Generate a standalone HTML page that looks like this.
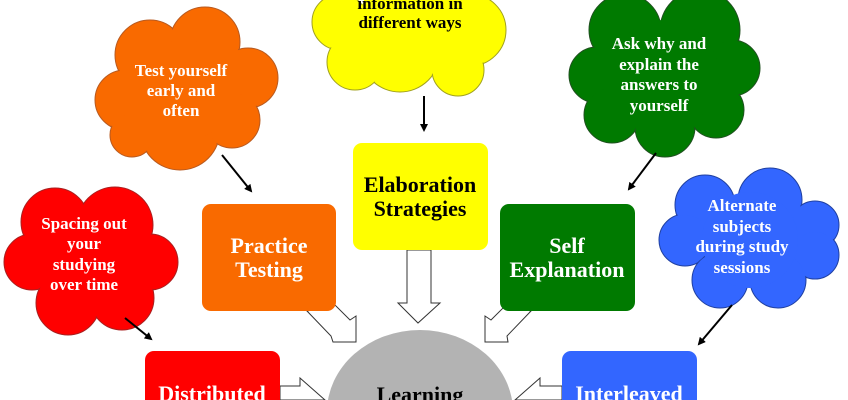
<!DOCTYPE html>
<html><head><meta charset="utf-8"><style>
html,body{margin:0;padding:0;background:#fff;width:848px;height:400px;overflow:hidden}
svg{display:block}
svg text{font-family:"Liberation Serif",serif;font-weight:bold;text-anchor:middle}
</style></head><body>
<svg width="848" height="400" viewBox="0 0 848 400" xmlns="http://www.w3.org/2000/svg">
<defs>
<marker id="ah" markerWidth="8" markerHeight="8" refX="6" refY="4" orient="auto" markerUnits="userSpaceOnUse"><path d="M0,0 L8,4 L0,8 Z" fill="#000"/></marker>
</defs>
<g id="orange">
<g fill="#f96a00" stroke="#b85a20" stroke-width="1">
<circle cx="150" cy="55" r="35"/><circle cx="205" cy="42" r="35"/><circle cx="248" cy="78" r="30"/>
<circle cx="125" cy="100" r="30"/><circle cx="180" cy="130" r="40"/><circle cx="232" cy="120" r="28"/><circle cx="132" cy="135" r="22"/>
</g>
<g fill="#f96a00">
<circle cx="150" cy="55" r="34"/><circle cx="205" cy="42" r="34"/><circle cx="248" cy="78" r="29"/>
<circle cx="125" cy="100" r="29"/><circle cx="180" cy="130" r="39"/><circle cx="232" cy="120" r="27"/><circle cx="132" cy="135" r="21"/><circle cx="185" cy="90" r="50"/>
</g></g>
<g id="red">
<g fill="#f00" stroke="#a82020" stroke-width="1">
<circle cx="55" cy="222" r="34"/><circle cx="115" cy="225" r="38"/><circle cx="32" cy="262" r="28"/>
<circle cx="150" cy="262" r="28"/><circle cx="68" cy="303" r="32"/><circle cx="122" cy="298" r="32"/>
</g>
<g fill="#f00">
<circle cx="55" cy="222" r="33"/><circle cx="115" cy="225" r="37"/><circle cx="32" cy="262" r="27"/>
<circle cx="150" cy="262" r="27"/><circle cx="68" cy="303" r="31"/><circle cx="122" cy="298" r="31"/><circle cx="90" cy="262" r="50"/>
</g></g>
<g id="yellow">
<g fill="#ff0" stroke="#a0a020" stroke-width="1">
<circle cx="340" cy="22" r="28"/><circle cx="400" cy="52" r="40"/><circle cx="470" cy="30" r="36"/><circle cx="355" cy="62" r="28"/><circle cx="458" cy="70" r="26"/>
</g>
<g fill="#ff0">
<circle cx="340" cy="22" r="27"/><circle cx="400" cy="52" r="39"/><circle cx="470" cy="30" r="35"/><circle cx="355" cy="62" r="27"/><circle cx="458" cy="70" r="25"/><circle cx="410" cy="20" r="50"/>
</g></g>
<g id="green">
<g fill="#007a00" stroke="#205020" stroke-width="1">
<circle cx="625" cy="30" r="36"/><circle cx="700" cy="30" r="40"/><circle cx="597" cy="75" r="28"/><circle cx="732" cy="68" r="28"/>
<circle cx="612" cy="115" r="28"/><circle cx="665" cy="127" r="30"/><circle cx="716" cy="110" r="28"/>
</g>
<g fill="#007a00">
<circle cx="625" cy="30" r="35"/><circle cx="700" cy="30" r="39"/><circle cx="597" cy="75" r="27"/><circle cx="732" cy="68" r="27"/>
<circle cx="612" cy="115" r="27"/><circle cx="665" cy="127" r="29"/><circle cx="716" cy="110" r="27"/><circle cx="664" cy="75" r="55"/>
</g></g>
<g id="blue">
<g fill="#3366ff" stroke="#2040a0" stroke-width="1">
<circle cx="705" cy="205" r="30"/><circle cx="770" cy="200" r="32"/><circle cx="815" cy="225" r="24"/><circle cx="685" cy="240" r="26"/><circle cx="815" cy="255" r="24"/>
<circle cx="720" cy="280" r="28"/><circle cx="778" cy="280" r="28"/>
</g>
<g fill="#3366ff">
<circle cx="705" cy="205" r="29"/><circle cx="770" cy="200" r="31"/><circle cx="815" cy="225" r="23"/><circle cx="685" cy="240" r="25"/><circle cx="815" cy="255" r="23"/>
<circle cx="720" cy="280" r="27"/><circle cx="778" cy="280" r="27"/><circle cx="750" cy="240" r="48"/>
</g></g>
<g fill="#fff" font-size="17">
<text x="181" y="76">Test yourself</text><text x="181" y="96">early and</text><text x="181" y="116">often</text>
<text x="84" y="229">Spacing out</text><text x="84" y="249">your</text><text x="84" y="270">studying</text><text x="84" y="290">over time</text>
<text x="659" y="49">Ask why and</text><text x="659" y="70">explain the</text><text x="659" y="90">answers to</text><text x="659" y="111">yourself</text>
<text x="742" y="211">Alternate</text><text x="742" y="232">subjects</text><text x="742" y="252">during study</text><text x="742" y="273">sessions</text>
</g>
<g fill="#000" font-size="17"><text x="410" y="9">information in</text><text x="410" y="28">different ways</text></g>
<g stroke="#000" stroke-width="2" marker-end="url(#ah)">
<line x1="222" y1="155" x2="251" y2="191"/>
<line x1="424" y1="96" x2="424" y2="130"/>
<line x1="656" y1="153" x2="629" y2="189"/>
<line x1="732" y1="305" x2="699" y2="344"/>
<line x1="125" y1="318" x2="151" y2="339"/>
</g>
<g fill="#fff" stroke="#333" stroke-width="1">
<path d="M407,250 L407,303 L398,303 L418,323 L440,303 L431,303 L431,250 Z"/>
<path d="M307,311 L331,336 L333,342 L356,342 L356,316 L350,320 L335,305 Z"/>
<path d="M531,311 L507,336 L508,342 L485,342 L485,316 L491,320 L506,305 Z"/>
<path d="M280,386 L300,386 L300,378 L325,400 L280,400 Z"/>
<path d="M562,386 L540,386 L540,378 L515,400 L562,400 Z"/>
</g>
<rect x="202" y="204" width="134" height="107" rx="9" fill="#f96a00"/>
<rect x="353" y="143" width="135" height="107" rx="9" fill="#ffff00"/>
<rect x="500" y="204" width="135" height="107" rx="9" fill="#007a00"/>
<rect x="145" y="351" width="135" height="60" rx="9" fill="#ff0000"/>
<rect x="562" y="351" width="135" height="60" rx="9" fill="#3366ff"/>
<ellipse cx="420" cy="412" rx="93" ry="82" fill="#b3b3b3"/>
<g font-size="22">
<text x="269" y="253" fill="#fff">Practice</text><text x="269" y="277" fill="#fff">Testing</text>
<text x="420" y="192" fill="#000">Elaboration</text><text x="420" y="216" fill="#000">Strategies</text>
<text x="567" y="253" fill="#fff">Self</text><text x="567" y="277" fill="#fff">Explanation</text>
<text x="212" y="401" fill="#fff">Distributed</text>
<text x="629" y="401" fill="#fff">Interleaved</text>
<text x="420" y="402" fill="#000">Learning</text>
</g>
</svg>
</body></html>
